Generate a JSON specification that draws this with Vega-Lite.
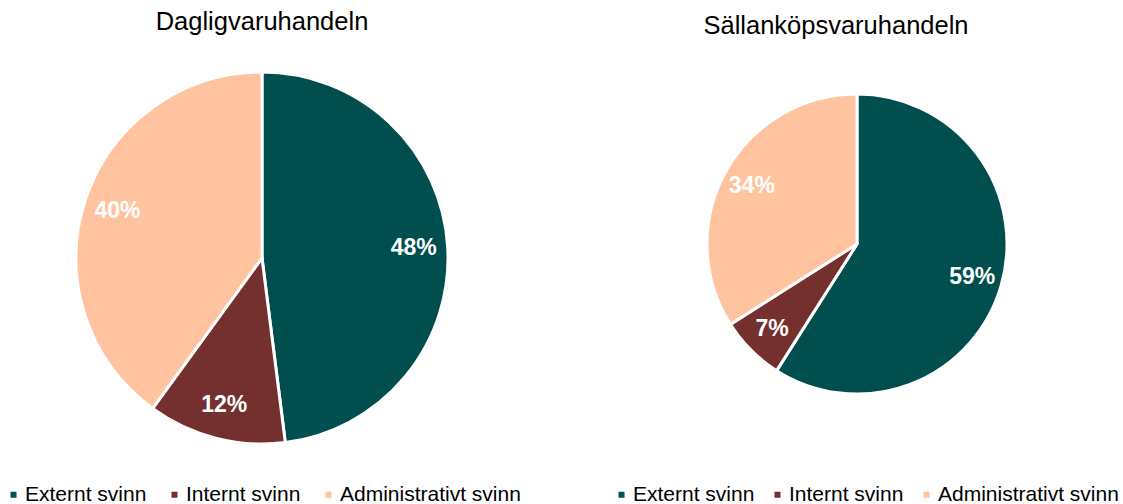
{
  "$schema": "https://vega.github.io/schema/vega-lite/v6.json",
  "padding": {"top": 9, "left": 0, "right": 0, "bottom": 0},
  "background": "white",
  "bounds": "flush",
  "spacing": 67,
  "config": {
    "view": {"stroke": null},
    "font": "Liberation Sans",
    "title": {"font": "Liberation Sans", "fontSize": 25.5, "fontWeight": "normal", "color": "#000000", "anchor": "middle", "baseline": "alphabetic", "offset": 9},
    "legend": {
      "orient": "none", "direction": "horizontal", "title": null,
      "symbolType": "square", "symbolSize": 36, "symbolStrokeWidth": 0,
      "labelFont": "Liberation Sans", "labelFontSize": 21, "labelColor": "#000000", "labelLimit": 0,
      "labelOffset": 1, "columnPadding": 17, "padding": 0
    }
  },
  "resolve": {"scale": {"color": "independent", "theta": "independent"}, "legend": {"color": "independent"}},
  "hconcat": [
    {
      "title": {"text": "Dagligvaruhandeln"},
      "width": 524,
      "height": 428,
      "data": {"values": [
        {"kategori": "Externt svinn", "andel": 0.48, "ordning": 1},
        {"kategori": "Internt svinn", "andel": 0.12, "ordning": 2},
        {"kategori": "Administrativt svinn", "andel": 0.40, "ordning": 3}
      ]},
      "encoding": {
        "theta": {"field": "andel", "type": "quantitative", "stack": true},
        "order": {"field": "ordning", "type": "quantitative"}
      },
      "layer": [
        {
          "mark": {"type": "arc", "outerRadius": 186, "stroke": "white", "strokeWidth": 3},
          "encoding": {
            "color": {
              "field": "kategori", "type": "nominal",
              "sort": ["Externt svinn", "Internt svinn", "Administrativt svinn"],
              "scale": {"domain": ["Externt svinn", "Internt svinn", "Administrativt svinn"], "range": ["#004E4E", "#74302F", "#FFC39F"]},
              "legend": {"legendX": 3, "legendY": 440}
            }
          }
        },
        {
          "mark": {"type": "text", "radius": 152, "fontSize": 23, "fontWeight": "bold", "fill": "white", "font": "Liberation Sans"},
          "encoding": {"text": {"field": "andel", "type": "quantitative", "format": ".0%"}}
        }
      ]
    },
    {
      "title": {"text": "Sällanköpsvaruhandeln", "dx": -21, "dy": 4},
      "width": 532,
      "height": 400,
      "data": {"values": [
        {"kategori": "Externt svinn", "andel": 0.59, "ordning": 1},
        {"kategori": "Internt svinn", "andel": 0.07, "ordning": 2},
        {"kategori": "Administrativt svinn", "andel": 0.34, "ordning": 3}
      ]},
      "encoding": {
        "theta": {"field": "andel", "type": "quantitative", "stack": true},
        "order": {"field": "ordning", "type": "quantitative"}
      },
      "layer": [
        {
          "mark": {"type": "arc", "outerRadius": 150, "stroke": "white", "strokeWidth": 3},
          "encoding": {
            "color": {
              "field": "kategori", "type": "nominal",
              "sort": ["Externt svinn", "Internt svinn", "Administrativt svinn"],
              "scale": {"domain": ["Externt svinn", "Internt svinn", "Administrativt svinn"], "range": ["#004E4E", "#74302F", "#FFC39F"]},
              "legend": {"legendX": 20, "legendY": 440, "columnPadding": 12}
            }
          }
        },
        {
          "mark": {"type": "text", "radius": 120, "fontSize": 23, "fontWeight": "bold", "fill": "white", "font": "Liberation Sans"},
          "encoding": {"text": {"field": "andel", "type": "quantitative", "format": ".0%"}}
        }
      ]
    }
  ]
}
